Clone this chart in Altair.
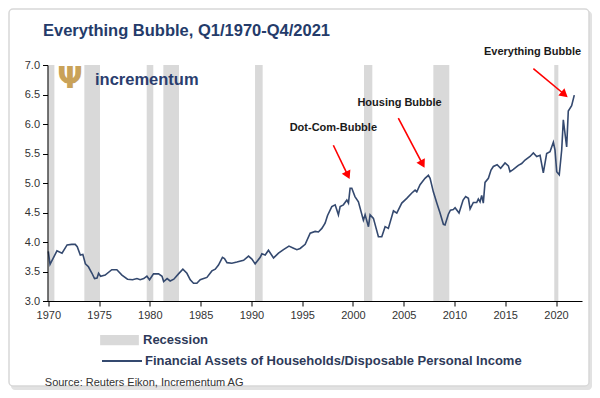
import altair as alt
import pandas as pd

# ---------------- data ----------------
years = [1970.00, 1970.17, 1970.85, 1971.35, 1971.85, 1972.30, 1972.65, 1972.85, 1973.15, 1973.40,
         1973.65, 1973.95, 1974.30, 1974.55, 1974.80, 1974.95, 1975.15, 1975.60, 1976.25, 1976.75,
         1977.25, 1977.80, 1978.30, 1978.73, 1979.05, 1979.40, 1979.71, 1979.97, 1980.36, 1980.86,
         1981.20, 1981.36, 1981.70, 1982.00, 1982.36, 1982.82, 1983.25, 1983.65, 1983.98, 1984.30,
         1984.63, 1984.96, 1985.30, 1985.62, 1986.11, 1986.44, 1986.76, 1987.15, 1987.35, 1987.60,
         1988.08, 1988.57, 1989.23, 1989.72, 1990.05, 1990.37, 1990.87, 1991.03, 1991.36, 1991.68,
         1992.18, 1992.67, 1993.16, 1993.70, 1994.10, 1994.48, 1994.80, 1995.30, 1995.79, 1996.28,
         1996.60, 1996.94, 1997.26, 1997.50, 1997.92, 1998.25, 1998.57, 1998.74, 1999.06, 1999.40,
         1999.56, 1999.72, 1999.89, 2000.20, 2000.54, 2001.03, 2001.20, 2001.53, 2001.69, 2002.02,
         2002.51, 2002.84, 2003.17, 2003.49, 2003.99, 2004.32, 2004.81, 2005.30, 2005.80, 2006.12,
         2006.29, 2006.61, 2007.10, 2007.43, 2007.60, 2007.92, 2008.26, 2008.58, 2008.91, 2009.07,
         2009.40, 2009.60, 2009.89, 2010.06, 2010.45, 2010.85, 2011.10, 2011.37, 2011.54, 2011.86,
         2012.19, 2012.35, 2012.52, 2012.68, 2012.84, 2013.01, 2013.34, 2013.60, 2013.83, 2014.20,
         2014.55, 2014.98, 2015.31, 2015.47, 2015.80, 2016.29, 2016.62, 2016.95, 2017.44, 2017.77,
         2018.10, 2018.43, 2018.75, 2019.08, 2019.41, 2019.74, 2019.90, 2020.07, 2020.32, 2020.56,
         2020.72, 2021.05, 2021.21, 2021.54, 2021.80]
values = [3.84, 3.62, 3.85, 3.81, 3.95, 3.96, 3.96, 3.92, 3.78, 3.79,
          3.63, 3.58, 3.47, 3.38, 3.39, 3.47, 3.42, 3.44, 3.53, 3.53,
          3.44, 3.37, 3.36, 3.38, 3.36, 3.38, 3.42, 3.36, 3.46, 3.46,
          3.42, 3.33, 3.38, 3.34, 3.37, 3.46, 3.54, 3.47, 3.36, 3.30,
          3.30, 3.36, 3.38, 3.40, 3.51, 3.54, 3.61, 3.74, 3.72, 3.65,
          3.64, 3.66, 3.69, 3.76, 3.71, 3.63, 3.74, 3.80, 3.78, 3.86,
          3.73, 3.81, 3.87, 3.93, 3.90, 3.87, 3.89, 3.96, 4.15, 4.18,
          4.17, 4.23, 4.32, 4.45, 4.60, 4.63, 4.46, 4.60, 4.63, 4.71,
          4.66, 4.91, 4.91, 4.77, 4.68, 4.37, 4.46, 4.26, 4.46, 4.40,
          4.09, 4.09, 4.26, 4.23, 4.53, 4.49, 4.66, 4.74, 4.83, 4.88,
          4.85, 4.97, 5.08, 5.13, 5.08, 4.85, 4.66, 4.49, 4.30, 4.29,
          4.47, 4.54, 4.55, 4.58, 4.49, 4.71, 4.77, 4.74, 4.56, 4.67,
          4.67, 4.73, 4.68, 4.79, 4.66, 5.01, 5.08, 5.22, 5.28, 5.31,
          5.25, 5.34, 5.29, 5.19, 5.23, 5.30, 5.33, 5.39, 5.45, 5.51,
          5.45, 5.47, 5.17, 5.50, 5.53, 5.69, 5.56, 5.19, 5.14, 5.56,
          6.07, 5.61, 6.22, 6.31, 6.49]
series_name = "Financial Assets of Households/Disposable Personal Income"

rec_start = [1969.92, 1973.55, 1979.69, 1981.33, 1990.36, 2001.09, 2007.92, 2019.83]
rec_end = [1970.60, 1975.09, 1980.34, 1982.87, 1991.11, 2001.91, 2009.49, 2020.23]

ann_text = ["Dot-Com-Bubble", "Housing Bubble", "Everything Bubble"]
ann_x = [1998.07, 2004.59, 2017.69]
ann_y = [5.93, 6.36, 7.225]
arr_x0 = [1998.07, 2004.47, 2017.77]
arr_y0 = [5.64, 6.10, 6.94]
arr_x1 = [1999.50, 2006.86, 2020.84]
arr_y1 = [5.13, 5.32, 6.50]
arr_angle = [154.5, 152.0, 130.0]

x_ticks = [1970, 1975, 1980, 1985, 1990, 1995, 2000, 2005, 2010, 2015, 2020]
y_ticks = [3.0, 3.5, 4.0, 4.5, 5.0, 5.5, 6.0, 6.5, 7.0]

title_text = "Everything Bubble, Q1/1970-Q4/2021"
source_text = "Source: Reuters Eikon, Incrementum AG"

# ---------------- styling ----------------
FONT = "Liberation Sans"
NAVY = "#243B6A"
LINE = "#34496F"
W, H = 534.5, 236

df_line = pd.DataFrame({"year": years, "value": values, "series": series_name})
df_rec = pd.DataFrame({"start": rec_start, "end": rec_end, "kind": "Recession"})
df_ann = pd.DataFrame({"x": ann_x, "y": ann_y, "t": ann_text})
df_arr = pd.DataFrame({"x0": arr_x0, "y0": arr_y0, "x1": arr_x1, "y1": arr_y1, "a": arr_angle})
one = pd.DataFrame({"k": [0]})

xscale = alt.Scale(domain=[1969.92, 2022.56], nice=False, zero=False)
yscale = alt.Scale(domain=[3, 7], nice=False, zero=False)
xaxis = alt.Axis(values=x_ticks, format="d", title=None, grid=False, tickSize=5,
                 labelPadding=3, labelFontSize=11, labelFont=FONT, labelColor="#333333",
                 domainColor="#000000", tickColor="#000000", labelFlush=False, zindex=2)
yaxis = alt.Axis(values=y_ticks, format=".1f", title=None, grid=False, tickSize=5,
                 labelPadding=3, labelFontSize=11, labelFont=FONT, labelColor="#333333",
                 domainColor="#000000", tickColor="#000000", zindex=2)

shadow = alt.Chart(one).mark_rect(fill="#E2E2E2", cornerRadius=4).encode(
    x=alt.value(-36.5), x2=alt.value(W + 10), y=alt.value(-54), y2=alt.value(H + 89))
frame = alt.Chart(one).mark_rect(fill="white", stroke="#D8D8D8", strokeWidth=1.5,
                                 cornerRadius=4).encode(
    x=alt.value(-38.5), x2=alt.value(W + 7), y=alt.value(-56), y2=alt.value(H + 85))

rec = alt.Chart(df_rec).mark_rect().encode(
    x=alt.X("start:Q", scale=xscale, axis=xaxis),
    x2="end:Q",
    fill=alt.Fill("kind:N", scale=alt.Scale(domain=["Recession"], range=["#D9D9D9"]),
                  legend=alt.Legend(orient="none", legendX=52.5, legendY=255.6, title=None,
                                    symbolType="M-1,-0.26H1V0.26H-1Z", symbolSize=1500,
                                    symbolStrokeWidth=0, labelFont=FONT, labelFontSize=13,
                                    labelFontWeight="bold", labelColor="#2E3A59",
                                    labelOffset=4, padding=0, labelLimit=600)),
)

line = alt.Chart(df_line).mark_line(strokeWidth=1.6).encode(
    x=alt.X("year:Q", scale=xscale, axis=xaxis),
    y=alt.Y("value:Q", scale=yscale, axis=yaxis),
    stroke=alt.Stroke("series:N", scale=alt.Scale(domain=[series_name], range=[LINE]),
                      legend=alt.Legend(orient="none", legendX=53.5, legendY=275, title=None,
                                        symbolType="stroke", symbolSize=1600,
                                        symbolStrokeWidth=2, labelFont=FONT, labelFontSize=13,
                                        labelFontWeight="bold", labelColor="#2E3A59",
                                        labelOffset=2, padding=0, labelLimit=800)),
)

arrows = alt.Chart(df_arr).mark_rule(color="#FF0000", strokeWidth=1.6).encode(
    x=alt.X("x0:Q", scale=xscale, axis=xaxis), y=alt.Y("y0:Q", scale=yscale, axis=yaxis),
    x2="x1:Q", y2="y1:Q")
heads = alt.Chart(df_arr).mark_point(shape="triangle-up", filled=True, size=90,
                                      color="#FF0000", opacity=1).encode(
    x=alt.X("x1:Q", scale=xscale, axis=xaxis), y=alt.Y("y1:Q", scale=yscale, axis=yaxis),
    angle=alt.Angle("a:Q", scale=None))
ann = alt.Chart(df_ann).mark_text(font=FONT, fontSize=11, fontWeight="bold",
                                  color="#1A1A1A").encode(
    x=alt.X("x:Q", scale=xscale, axis=xaxis), y=alt.Y("y:Q", scale=yscale, axis=yaxis),
    text="t:N")

title = alt.Chart(one).mark_text(text=title_text, font=FONT, fontSize=16.5, fontWeight="bold",
                                 color=NAVY, align="left", baseline="alphabetic").encode(
    x=alt.value(-4.5), y=alt.value(-29))
logo_txt = alt.Chart(one).mark_text(text="incrementum", font=FONT, fontSize=16.5,
                                    fontWeight="bold", color="#2A3D6E", align="left",
                                    baseline="middle").encode(
    x=alt.value(47.5), y=alt.value(15))
logo_icon = alt.Chart(one).mark_text(text="Ψ", font="DejaVu Sans", fontSize=30,
                                     fontWeight="bold", color="#C9A259", align="center",
                                     baseline="middle").encode(
    x=alt.value(22.5), y=alt.value(14))
source = alt.Chart(one).mark_text(text=source_text, font=FONT, fontSize=11, color="#333333",
                                  align="left", baseline="middle").encode(
    x=alt.value(-2.7), y=alt.value(318))

chart = alt.layer(shadow, frame, rec, line, arrows, heads, ann, title, logo_icon, logo_txt,
                  source).resolve_scale(fill="independent", stroke="independent").properties(
    width=W, height=H,
    autosize=alt.AutoSizeParams(type="none"),
    padding={"left": 39.5, "top": 57, "right": 10, "bottom": 89},
    background="white",
).configure_view(stroke=None)

chart.save("out.html", embed_options={"renderer": "svg", "actions": False})
